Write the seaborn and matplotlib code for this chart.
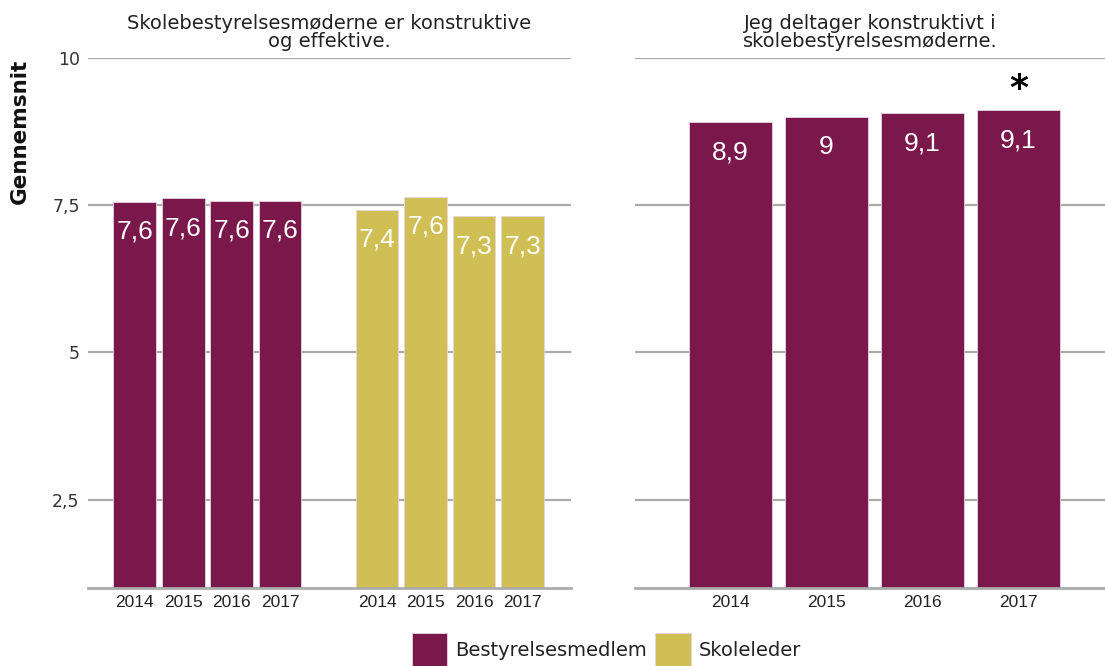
import matplotlib
matplotlib.use("Agg")
import matplotlib.pyplot as plt
from matplotlib.patches import Patch
import seaborn as sns
import pandas as pd

# --- data ---
years = ["2014", "2015", "2016", "2017"]
groups = ["Bestyrelsesmedlem", "Skoleleder"]
q1_bestyrelse = [7.56, 7.62, 7.58, 7.58]
q1_skoleleder = [7.42, 7.64, 7.31, 7.31]
q2_bestyrelse = [8.92, 9.0, 9.06, 9.12]
title_q1 = "Skolebestyrelsesmøderne er konstruktive\nog effektive."
title_q2 = "Jeg deltager konstruktivt i\nskolebestyrelsesmøderne."
ylabel = "Gennemsnit"
y_ticks = [2.5, 5, 7.5, 10]
y_ticklabels = ["2,5", "5", "7,5", "10"]
star_year = "2017"

colors = {"Bestyrelsesmedlem": "#7a184c", "Skoleleder": "#cfbf55"}
grid_color = "#ababab"
edge_color = "#e6d6de"

sns.set_theme(style="white")
plt.rcParams["font.family"] = ["DejaVu Sans"]

fig = plt.figure(figsize=(11.05, 6.66), dpi=100)
ax1 = fig.add_axes([88 / 1105, 1 - 588 / 666, 483 / 1105, 530 / 666])
ax2 = fig.add_axes([635 / 1105, 1 - 588 / 666, 470 / 1105, 530 / 666])

# left panel: both groups side by side, with one empty slot between them
n = len(years)
pos_b = list(range(n))
pos_s = [p + n + 1 for p in range(n)]
df1 = pd.DataFrame({
    "pos": pos_b + pos_s,
    "value": q1_bestyrelse + q1_skoleleder,
    "group": [groups[0]] * n + [groups[1]] * n,
})
df2 = pd.DataFrame({"pos": list(range(n)), "value": q2_bestyrelse,
                    "group": [groups[0]] * n})

sns.barplot(data=df1, x="pos", y="value", hue="group", palette=colors,
            native_scale=True, dodge=False, width=0.885, saturation=1,
            edgecolor=edge_color, linewidth=0.6, legend=False, ax=ax1)
sns.barplot(data=df2, x="pos", y="value", hue="group", palette=colors,
            native_scale=True, dodge=False, width=0.865, saturation=1,
            edgecolor=edge_color, linewidth=0.6, legend=False, ax=ax2)


def fmt(v):
    s = f"{v:.1f}"
    if s.endswith(".0"):
        s = s[:-2]
    return s.replace(".", ",")


def label_bars(ax, positions, values, off):
    for p, v in zip(positions, values):
        ax.annotate(fmt(v), xy=(p, v), xytext=(0, off), textcoords="offset points",
                    ha="center", va="center", color="white", fontsize=19,
                    family=["Liberation Sans"])


label_bars(ax1, pos_b, q1_bestyrelse, -21.5)
label_bars(ax1, pos_s, q1_skoleleder, -21.5)
label_bars(ax2, list(range(n)), q2_bestyrelse, -22)

# significance marker above the last bar
i_star = years.index(star_year)
ax2.annotate("*", xy=(i_star, q2_bestyrelse[i_star]), xytext=(0, 2.5),
             textcoords="offset points", ha="center", va="bottom",
             fontsize=26, fontweight="bold", color="black",
             family=["DejaVu Sans"])

for ax in (ax1, ax2):
    ax.set_ylim(1, 10)
    ax.set_yticks(y_ticks)
    ax.yaxis.grid(True, color=grid_color, linewidth=1.6)
    ax.set_axisbelow(True)
    for s in ("top", "left", "right"):
        ax.spines[s].set_visible(False)
    ax.spines["bottom"].set_color(grid_color)
    ax.spines["bottom"].set_linewidth(2)
    ax.tick_params(axis="both", length=0)
    ax.set_xlabel("")
    ax.set_ylabel("")

ax1.set_xlim(-0.96, 2 * n + 1)
ax2.set_xlim(-0.99, n - 0.1)

ax1.set_xticks(pos_b + pos_s, labels=years + years)
ax2.set_xticks(list(range(n)), labels=years)
for ax in (ax1, ax2):
    for t in ax.get_xticklabels():
        t.set_family(["Liberation Sans"])
        t.set_fontsize(12.5)
        t.set_color("#222222")
    ax.tick_params(axis="x", pad=5)

ax1.set_yticks(y_ticks, labels=y_ticklabels)
for t in ax1.get_yticklabels():
    t.set_fontsize(12.5)
    t.set_color("#333333")
ax1.tick_params(axis="y", pad=6)
ax2.set_yticklabels([])

ax1.set_title(title_q1, fontsize=14, color="#222222", pad=8, linespacing=0.95)
ax2.set_title(title_q2, fontsize=14, color="#222222", pad=8, linespacing=0.95)

fig.text(19.5 / 1105, 1 - 131 / 666, ylabel, rotation=90, ha="center", va="center",
         fontsize=15.5, fontweight="bold", color="#111111")

handles = [Patch(facecolor=colors[g], edgecolor=edge_color, linewidth=0.6) for g in groups]
fig.legend(handles, groups, loc="upper center", bbox_to_anchor=(606.5 / 1105, 1 - 633 / 666),
           ncol=2, frameon=False, fontsize=14, handlelength=1.85, handleheight=2.3,
           handletextpad=0.41, columnspacing=0.41, borderpad=0, borderaxespad=0,
           labelcolor="#222222")

fig.savefig("out.png", dpi=100)
